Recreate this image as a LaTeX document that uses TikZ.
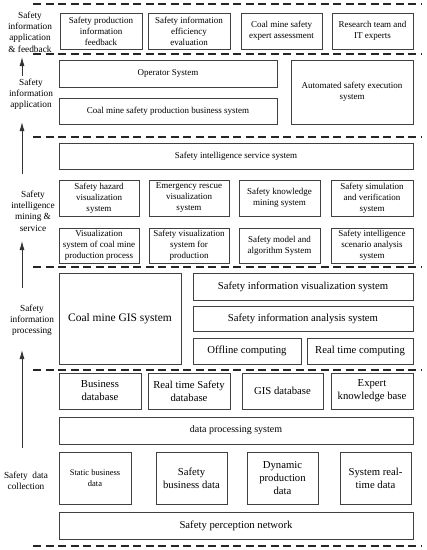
\documentclass[tikz,border=0pt]{standalone}
\usepackage{fontspec}
\setmainfont{Liberation Serif}
\usetikzlibrary{arrows.meta}
\begin{document}
\begin{tikzpicture}[x=1pt,y=-1pt,
  box/.style={draw=black!75, line width=0.8pt, align=center, inner sep=1pt, font=\fontsize{9}{11}\selectfont},
  bigbox/.style={box, font=\fontsize{10.7}{13}\selectfont},
  lay/.style={align=center, inner sep=0pt, font=\fontsize{9.3}{11.2}\selectfont},
  sep/.style={dashed, dash pattern=on 8pt off 4.5pt, line width=1.2pt, black!85},
  up/.style={-{Latex[length=9pt,width=5pt]}, line width=0.9pt, black!80}]
\useasboundingbox (0,0) rectangle (427,550);
% separators
\foreach \yy in {4,54,137,267,370,546} \draw[sep] (33,\yy) -- (422,\yy);
% layer labels
\node[lay] (L1) at (30,32) {Safety\\information\\application\\\& feedback};
\node[lay] (L2) at (31,94) {Safety\\information\\application};
\node[lay] (L3) at (33,211) {Safety\\intelligence\\mining \&\\service};
\node[lay] (L4) at (32,320) {Safety\\information\\processing};
\node[lay] (L5) at (26,481) {Safety\ \ data\\collection};
% arrows
\coordinate (a1s) at (22,448); \coordinate (a1e) at (22,350);
\coordinate (a2s) at (22,288); \coordinate (a2e) at (22,241);
\coordinate (a3s) at (22,174); \coordinate (a3e) at (22,122);
\coordinate (a4s) at (22,76);  \coordinate (a4e) at (22,57);
\draw[up] (a1s) -- (a1e);
\draw[up] (a2s) -- (a2e);
\draw[up] (a3s) -- (a3e);
\draw[up] (a4s) -- (a4e);
% row 1
\node[box, minimum width=82pt, minimum height=36pt] (b11) at (101,31) {Safety production\\information\\feedback};
\node[box, minimum width=82pt, minimum height=36pt] (b12) at (189,31) {Safety information\\efficiency\\evaluation};
\node[box, minimum width=81pt, minimum height=36pt] (b13) at (281.5,31) {Coal mine safety\\expert assessment};
\node[box, minimum width=81pt, minimum height=36pt] (b14) at (372.5,31) {Research team and\\IT experts};
% row 2
\node[box, minimum width=218pt, minimum height=27pt] (op) at (168,73.5) {Operator System};
\node[box, minimum width=218pt, minimum height=26pt] (cm) at (168,111) {Coal mine safety production business system};
\node[box, minimum width=122pt, minimum height=64pt] (auto) at (352,92) {Automated safety execution\\system};
% layer 3
\node[box, minimum width=354pt, minimum height=26pt] (sis) at (236,156) {Safety intelligence service system};
\node[box, minimum width=80pt, minimum height=36pt] (c11) at (99,198) {Safety hazard\\visualization\\system};
\node[box, minimum width=80pt, minimum height=36pt] (c12) at (189,198) {Emergency rescue\\visualization\\system};
\node[box, minimum width=81pt, minimum height=36pt] (c13) at (279.5,198) {Safety knowledge\\mining system};
\node[box, minimum width=82pt, minimum height=36pt] (c14) at (372,198) {Safety simulation\\and verification\\system};
\node[box, minimum width=80pt, minimum height=35pt] (c21) at (99,245.5) {Visualization\\system of coal mine\\production process};
\node[box, minimum width=80pt, minimum height=35pt] (c22) at (189,245.5) {Safety visualization\\system for\\production};
\node[box, minimum width=81pt, minimum height=35pt] (c23) at (279.5,245.5) {Safety model and\\algorithm System};
\node[box, minimum width=82pt, minimum height=35pt] (c24) at (372,245.5) {Safety intelligence\\scenario analysis\\system};
% layer 4
\node[box, font=\fontsize{11.5}{14}\selectfont, minimum width=122pt, minimum height=91pt] (gis) at (120,318.5) {Coal mine GIS system};
\node[bigbox, minimum width=220pt, minimum height=27pt] (vis) at (303,286.5) {Safety information visualization system};
\node[bigbox, minimum width=220pt, minimum height=25pt] (ana) at (303,318.5) {Safety information analysis system};
\node[bigbox, minimum width=108pt, minimum height=26pt] (off) at (247,351) {Offline computing};
\node[bigbox, minimum width=106pt, minimum height=26pt] (rt) at (360,351) {Real time computing};
% layer 5
\node[bigbox, minimum width=82pt, minimum height=36pt] (d1) at (100,391) {Business\\database};
\node[bigbox, minimum width=82pt, minimum height=36pt] (d2) at (189,391) {Real time Safety\\database};
\node[bigbox, minimum width=81pt, minimum height=36pt] (d3) at (282.5,391) {GIS database};
\node[bigbox, minimum width=82pt, minimum height=36pt] (d4) at (372,391) {Expert\\knowledge base};
\node[bigbox, font=\fontsize{10}{12.5}\selectfont, minimum width=354pt, minimum height=27pt] (dps) at (236,430.5) {data processing system};
\node[box, font=\fontsize{8.5}{11}\selectfont, minimum width=72pt, minimum height=52pt] (e1) at (95,478) {Static business\\data};
\node[bigbox, minimum width=71pt, minimum height=52pt] (e2) at (191.5,478) {Safety\\business data};
\node[bigbox, minimum width=71pt, minimum height=52pt] (e3) at (282.5,478) {Dynamic\\production\\data};
\node[bigbox, minimum width=71pt, minimum height=52pt] (e4) at (375.5,478) {System real-\\time data};
\node[bigbox, minimum width=354pt, minimum height=27pt] (spn) at (236,525.5) {Safety perception network};
\end{tikzpicture}
\end{document}
